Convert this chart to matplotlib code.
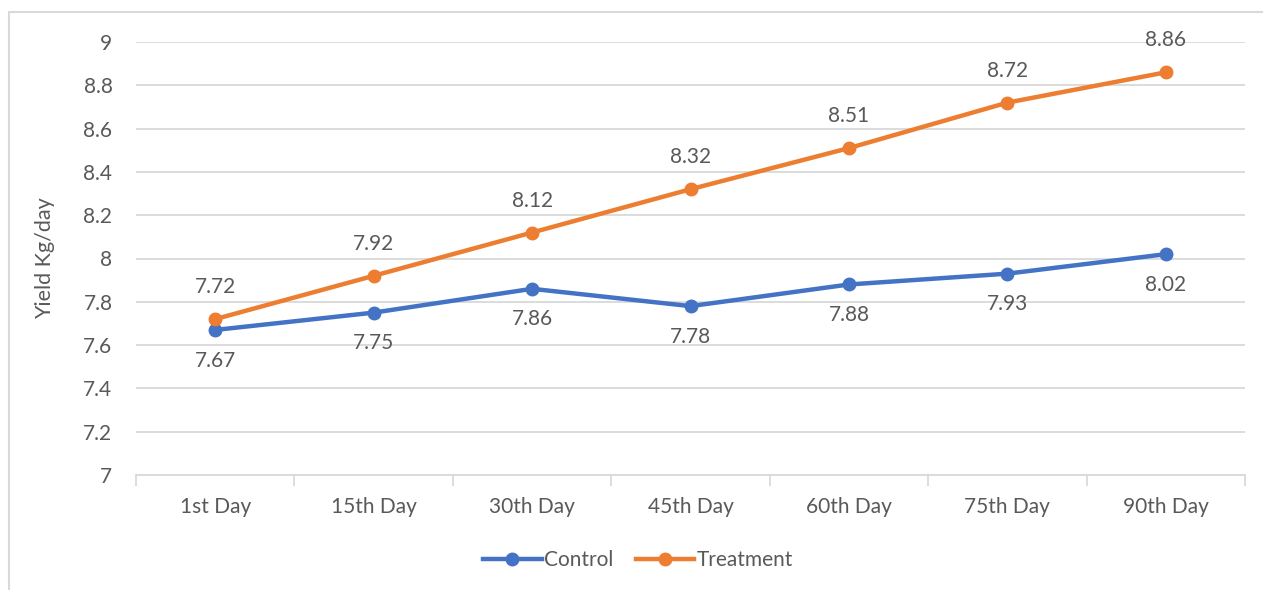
import matplotlib
matplotlib.use("Agg")
import matplotlib.pyplot as plt
from matplotlib.patches import Rectangle
from matplotlib.lines import Line2D

categories = ["1st Day", "15th Day", "30th Day", "45th Day", "60th Day", "75th Day", "90th Day"]
control = [7.67, 7.75, 7.86, 7.78, 7.88, 7.93, 8.02]
treatment = [7.72, 7.92, 8.12, 8.32, 8.51, 8.72, 8.86]
y_ticks = [7, 7.2, 7.4, 7.6, 7.8, 8, 8.2, 8.4, 8.6, 8.8, 9]

BLUE = "#4472C4"
ORANGE = "#ED7D31"
TEXT = "#595959"
GRID = "#D9D9D9"
FS = 15

plt.rcParams["font.family"] = ["Lato", "DejaVu Sans"]

W, H = 1263, 590
fig = plt.figure(figsize=(W / 100, H / 100), dpi=100)

# chart-area frame (left and top edges visible)
fig.patches.append(Rectangle((9 / W, -0.1), 1.2, 1 - 12 / H + 0.1,
                             transform=fig.transFigure, fill=False,
                             edgecolor=GRID, linewidth=1.5))

ax = fig.add_axes([136 / W, 1 - 475 / H, (1245 - 136) / W, (475 - 42) / H])
x = list(range(len(categories)))

ax.set_xlim(-0.5, len(categories) - 0.5)
ax.set_ylim(7, 9)
ax.set_yticks(y_ticks)
ax.set_yticklabels([f"{v:g}" for v in y_ticks])
ax.grid(axis="y", color=GRID, linewidth=1.3)
ax.set_axisbelow(True)

for s in ["top", "right", "left"]:
    ax.spines[s].set_visible(False)
ax.spines["bottom"].set_color(GRID)
ax.spines["bottom"].set_linewidth(1.3)

ax.set_xticks(x)
ax.set_xticklabels(categories)
ax.set_xticks([i - 0.5 for i in range(len(categories) + 1)], minor=True)
ax.tick_params(axis="x", which="major", length=0, pad=16, labelsize=FS, labelcolor=TEXT)
ax.tick_params(axis="x", which="minor", length=8, color=GRID, width=1.3)
ax.tick_params(axis="y", length=0, pad=17, labelsize=FS, labelcolor=TEXT)

ax.set_ylabel("Yield Kg/day", fontsize=FS + 0.5, color=TEXT, labelpad=20)

ax.plot(x, control, color=BLUE, linewidth=3.2, marker="o", markersize=9,
        solid_capstyle="round", zorder=3)
ax.plot(x, treatment, color=ORANGE, linewidth=3.2, marker="o", markersize=9,
        solid_capstyle="round", zorder=3)

for xi, v in zip(x, control):
    ax.annotate(f"{v:g}", (xi, v), xytext=(0, -22), textcoords="offset points",
                ha="center", va="center", fontsize=FS, color=TEXT)
for xi, v in zip(x, treatment):
    ax.annotate(f"{v:g}", (xi, v), xytext=(0, 23), textcoords="offset points",
                ha="center", va="center", fontsize=FS, color=TEXT)

handles = [
    Line2D([], [], color=BLUE, linewidth=3.2, marker="o", markersize=9),
    Line2D([], [], color=ORANGE, linewidth=3.2, marker="o", markersize=9),
]
fig.legend(handles, ["Control", "Treatment"], loc="center",
           bbox_to_anchor=(638 / W, 1 - 560 / H), ncol=2, frameon=False,
           fontsize=FS, labelcolor=TEXT, handlelength=2.8, handletextpad=0.1,
           columnspacing=1.1)

fig.savefig("out.png", dpi=100, facecolor="white")
